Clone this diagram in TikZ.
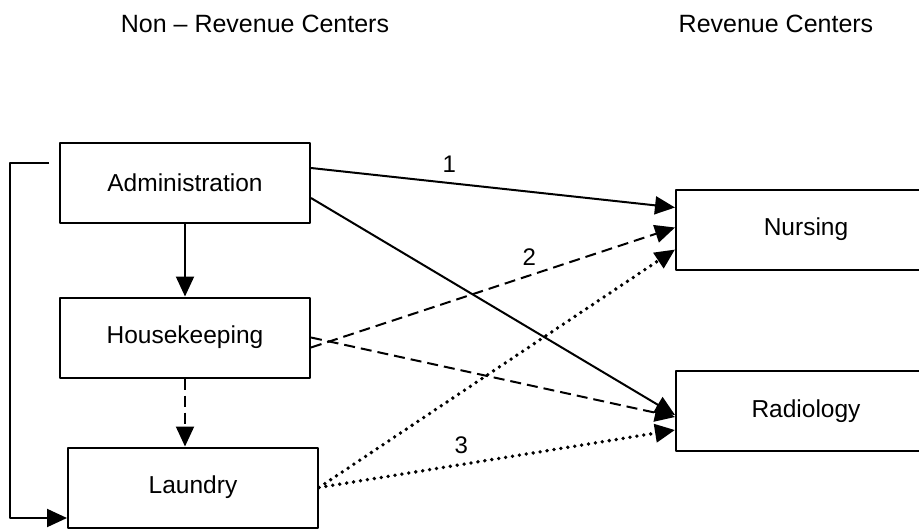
\documentclass[tikz,border=0pt]{standalone}
\usepackage{fontspec}
\setmainfont{Liberation Sans}
\usetikzlibrary{arrows.meta}
\begin{document}
\begin{tikzpicture}[x=1pt, y=-1pt, line width=2pt, line join=round,
  arr/.style={-{Triangle[length=20pt,width=18pt]}},
  dept/.style={draw, minimum width=250pt, minimum height=80pt, inner sep=0pt, font=\fontsize{24.5}{29}\selectfont},
  ttl/.style={font=\fontsize{25}{30}\selectfont},
  num/.style={font=\fontsize{24}{29}\selectfont, above=6pt},
  dashline/.style={dash pattern=on 11pt off 6pt},
  dotline/.style={line width=3.8pt, line cap=round, dash pattern=on 0pt off 7pt}]
\clip (0,0) rectangle (919,528);
\fill[white] (0,0) rectangle (919,528);
% headings
\node[ttl] (nrc) at (255,24) {Non – Revenue Centers};
\node[ttl] (rc) at (776,24) {Revenue Centers};
% departments
\node[dept] (adm) at (185,183) {Administration};
\node[dept] (hk) at (185,337.5) {Housekeeping};
\node[dept] (lau) at (193,487.5) {Laundry};
\node[dept, minimum width=260pt] (nur) at (806,229.5) {Nursing};
\node[dept, minimum width=260pt] (rad) at (806,411) {Radiology};
\coordinate (bend) at (10,518);
% allocations
\draw[arr] (adm) -- (hk);
\draw[arr, dashline] (hk) -- (hk |- lau.north);
\draw[arr] ([shift={(-10pt,-21pt)}]adm.north west) -| (bend) -- (bend -| lau.west);
\draw[arr] ([yshift=15pt]adm.east) -- node[num, pos=0.38]{1} ([yshift=22pt]nur.west);
\draw[arr] ([yshift=-15pt]adm.east) -- ([yshift=-4pt]rad.west);
\draw[arr, dashline] ([yshift=-10pt]hk.east) -- node[num, pos=0.6]{2} ([yshift=2pt]nur.west);
\draw[arr, dashline] (hk.east) -- ([yshift=-6pt]rad.west);
\draw[arr, dotline] (lau.east) -- ([yshift=-20pt]nur.west);
\draw[arr, dotline] (lau.east) -- node[num, pos=0.4]{3} ([yshift=-19pt]rad.west);
\end{tikzpicture}
\end{document}
